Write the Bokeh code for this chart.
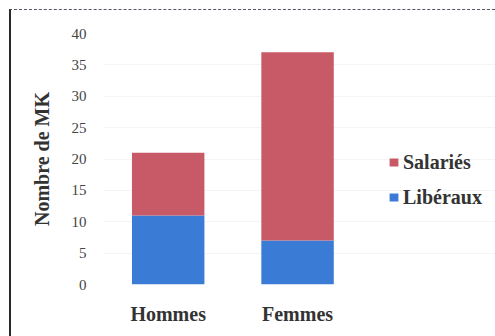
from bokeh.plotting import figure
from bokeh.models import (ColumnDataSource, Legend, LegendItem, InlineStyleSheet,
                          Range1d, FixedTicker)
from bokeh.embed import file_html
from bokeh.resources import INLINE

# Nombre de MK par sexe et par mode d'exercice
groupes = ["Hommes", "Femmes"]
liberaux = [11, 7]
salaries = [10, 30]
series = ["Libéraux", "Salariés"]
couleurs = ["#3a7bd5", "#c85a68"]
y_ticks = [0, 5, 10, 15, 20, 25, 30, 35, 40]

# une position entière par groupe sur l'axe horizontal
positions = [i + 1 for i in range(len(groupes))]
source = ColumnDataSource(data=dict(x=positions, Libéraux=liberaux, Salariés=salaries))

serif = "Liberation Serif"

# l'axe horizontal est prolongé à droite pour laisser la place à la légende
p = figure(
    x_range=Range1d(0.5, 3.53), y_range=Range1d(0, 40),
    width=495, height=336,
    output_backend="svg", toolbar_location=None,
    min_border_left=103, min_border_right=0,
    min_border_top=33, min_border_bottom=52,
)

renderers = p.vbar_stack(series, x="x", width=0.56, color=couleurs,
                         line_color=None, source=source)

p.outline_line_color = None
p.background_fill_color = "white"
p.border_fill_color = "white"

p.xgrid.grid_line_color = None
p.ygrid.grid_line_color = "#f4f4f4"
p.ygrid.ticker = y_ticks

p.xaxis.ticker = FixedTicker(ticks=positions)
p.xaxis.major_label_overrides = {pos: nom for pos, nom in zip(positions, groupes)}
p.xaxis.axis_line_color = None
p.xaxis.major_tick_line_color = None
p.xaxis.minor_tick_line_color = None
p.xaxis.major_label_text_font = serif
p.xaxis.major_label_text_font_style = "bold"
p.xaxis.major_label_text_font_size = "20px"
p.xaxis.major_label_text_color = "#333333"
p.xaxis.major_label_standoff = 12

p.yaxis.ticker = y_ticks
p.yaxis.axis_line_color = None
p.yaxis.major_tick_line_color = None
p.yaxis.minor_tick_line_color = None
p.yaxis.major_label_text_font = serif
p.yaxis.major_label_text_font_size = "15px"
p.yaxis.major_label_text_color = "#444444"
p.yaxis.major_label_standoff = 11
p.yaxis.axis_label = "Nombre de MK"
p.yaxis.axis_label_text_font = serif
p.yaxis.axis_label_text_font_style = "bold"
p.yaxis.axis_label_text_font_size = "20px"
p.yaxis.axis_label_text_color = "#333333"
p.yaxis.axis_label_standoff = 16

legend = Legend(
    items=[LegendItem(label="Salariés", renderers=[renderers[1]]),
           LegendItem(label="Libéraux", renderers=[renderers[0]])],
    location=(285, 75),
    glyph_width=11, glyph_height=10,
    label_height=24, spacing=11, padding=0, margin=0,
    label_standoff=4,
    label_text_font=serif, label_text_font_style="bold",
    label_text_font_size="20px", label_text_color="#333333",
    border_line_color=None, background_fill_alpha=0,
)
p.add_layout(legend)

# cadre extérieur : trait gauche plein, trait haut discontinu
p.stylesheets = [InlineStyleSheet(css="""
:host { position: relative; }
:host::after {
  content: ""; position: absolute; left: 9px; top: 9px; right: 0; bottom: 0;
  border-left: 2px solid #2a2a2a; border-top: 1px dashed #555566;
  pointer-events: none;
}
""")]

open("out.html", "w").write(file_html(p, INLINE))
